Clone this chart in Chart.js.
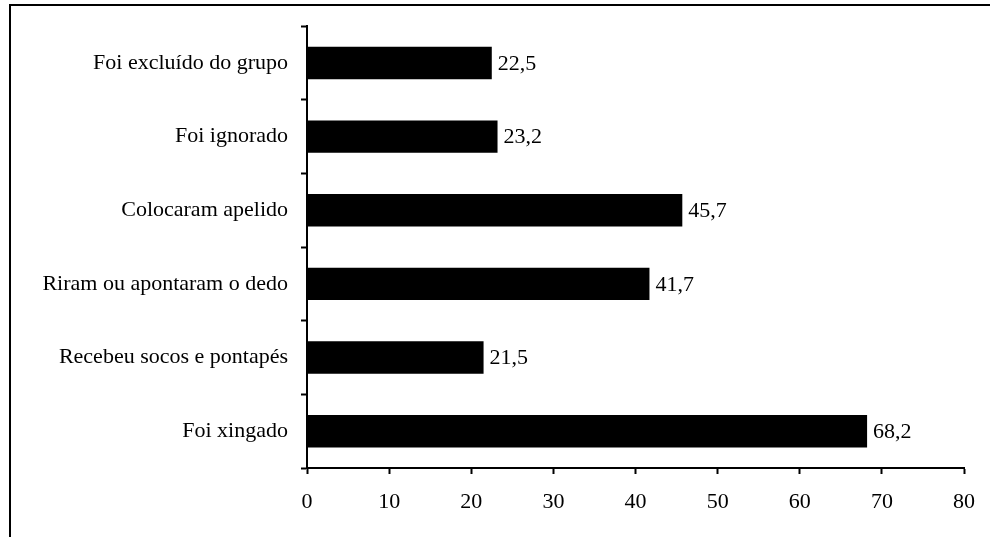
<!DOCTYPE html>
<html>
<head>
<meta charset="utf-8">
<script src="https://cdn.jsdelivr.net/npm/chart.js@4.4.1/dist/chart.umd.min.js"></script>
<style>
  html, body { margin: 0; padding: 0; background: #fff; }
  #wrap { width: 990px; height: 537px; position: relative; }
</style>
</head>
<body>
<div id="wrap"><canvas id="c" width="990" height="537"></canvas></div>
<script>
const categories = [
  "Foi excluído do grupo",
  "Foi ignorado",
  "Colocaram apelido",
  "Riram ou apontaram o dedo",
  "Recebeu socos e pontapés",
  "Foi xingado"
];
const values = [22.5, 23.2, 45.7, 41.7, 21.5, 68.2];
const xTicks = [0, 10, 20, 30, 40, 50, 60, 70, 80];

const FONT = "'Liberation Serif', 'Times New Roman', serif";

// outer frame, only top and left edges fall inside the canvas
const framePlugin = {
  id: "frame",
  beforeDraw(chart) {
    const ctx = chart.ctx;
    ctx.save();
    ctx.strokeStyle = "#000";
    ctx.lineWidth = 2;
    ctx.strokeRect(10, 5, 1100, 1100);
    ctx.restore();
  }
};

// value labels at the end of each bar
const valueLabels = {
  id: "valueLabels",
  afterDatasetsDraw(chart) {
    const ctx = chart.ctx;
    const meta = chart.getDatasetMeta(0);
    ctx.save();
    ctx.font = "22px " + FONT;
    ctx.fillStyle = "#000";
    ctx.textAlign = "left";
    ctx.textBaseline = "middle";
    meta.data.forEach((bar, i) => {
      ctx.fillText(values[i].toFixed(1).replace(".", ","), bar.x + 6, bar.y + 1);
    });
    ctx.restore();
  }
};

new Chart(document.getElementById("c"), {
  type: "bar",
  data: {
    labels: categories,
    datasets: [{
      data: values,
      backgroundColor: "#000",
      borderWidth: 0,
      barPercentage: 0.44,
      categoryPercentage: 1
    }]
  },
  options: {
    indexAxis: "y",
    responsive: false,
    animation: false,
    layout: { padding: { top: 26, right: 20, left: 0, bottom: 0 } },
    plugins: {
      legend: { display: false },
      tooltip: { enabled: false }
    },
    scales: {
      x: {
        min: 0,
        max: 80,
        afterBuildTicks(scale) {
          scale.ticks = xTicks.map(v => ({ value: v }));
        },
        afterFit(scale) { scale.height = 69; },
        grid: {
          drawOnChartArea: false,
          drawTicks: true,
          tickLength: 6,
          tickWidth: 2,
          color: "#000"
        },
        border: { display: true, color: "#000", width: 2 },
        ticks: {
          color: "#000",
          padding: 15,
          maxRotation: 0,
          font: { family: FONT, size: 22 }
        }
      },
      y: {
        afterFit(scale) { scale.width = 307; },
        grid: {
          offset: true,
          drawOnChartArea: false,
          drawTicks: true,
          tickLength: 6,
          tickWidth: 2,
          color: "#000"
        },
        border: { display: true, color: "#000", width: 2 },
        ticks: {
          color: "#000",
          padding: 13,
          font: { family: FONT, size: 22 }
        }
      }
    }
  },
  plugins: [framePlugin, valueLabels]
});
</script>
</body>
</html>
